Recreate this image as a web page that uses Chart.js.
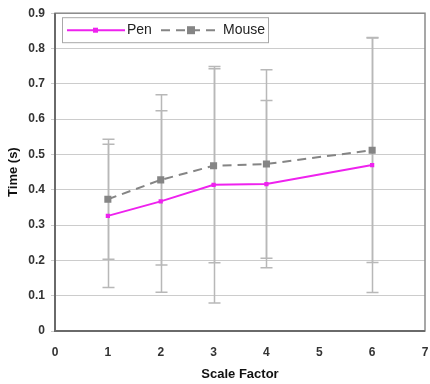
<!DOCTYPE html>
<html>
<head>
<meta charset="utf-8">
<script src="https://cdn.jsdelivr.net/npm/chart.js@4.4.1/dist/chart.umd.min.js"></script>
<style>
html,body{margin:0;padding:0;background:#fff;}
#wrap{width:430px;height:384px;position:relative;}
</style>
</head>
<body>
<div id="wrap"><canvas id="c" width="430" height="384"></canvas></div>
<script>
const scaleFactors = [1, 2, 3, 4, 6];
const penTime = [0.326, 0.367, 0.414, 0.416, 0.470];
const penErr = [0.203, 0.257, 0.335, 0.237, 0.361];
const mouseTime = [0.373, 0.428, 0.468, 0.473, 0.512];
const mouseErr = [0.170, 0.241, 0.275, 0.267, 0.318];
const seriesNames = ['Pen', 'Mouse'];
const yTicks = [0, 0.1, 0.2, 0.3, 0.4, 0.5, 0.6, 0.7, 0.8, 0.9];
const xTicks = [0, 1, 2, 3, 4, 5, 6, 7];

const FONT = '"Liberation Sans", Arial, sans-serif';
const PEN_COLOR = '#ee22ee';
const MOUSE_COLOR = '#858585';
const ERR_COLOR = '#b8b8b8';

const errorBars = {
  id: 'errorBars',
  beforeDatasetsDraw(chart) {
    const {ctx, scales: {x, y}} = chart;
    ctx.save();
    ctx.strokeStyle = ERR_COLOR;
    ctx.lineWidth = 1.5;
    const sets = [[penTime, penErr], [mouseTime, mouseErr]];
    sets.forEach(([m, e]) => {
      scaleFactors.forEach((sf, i) => {
        const px = Math.round(x.getPixelForValue(sf)) + 0.5;
        const top = y.getPixelForValue(m[i] + e[i]);
        const bot = y.getPixelForValue(m[i] - e[i]);
        ctx.beginPath();
        ctx.moveTo(px, top); ctx.lineTo(px, bot);
        ctx.moveTo(px - 6, top); ctx.lineTo(px + 6, top);
        ctx.moveTo(px - 6, bot); ctx.lineTo(px + 6, bot);
        ctx.stroke();
      });
    });
    ctx.restore();
  }
};

const frameAndLegend = {
  id: 'frameAndLegend',
  afterDraw(chart) {
    const {ctx, chartArea: a} = chart;
    ctx.save();
    ctx.strokeStyle = '#8a8a8a';
    ctx.lineWidth = 1.5;
    ctx.strokeRect(a.left, a.top, a.right - a.left, a.bottom - a.top);
    ctx.strokeStyle = '#6a6a6a';
    ctx.lineWidth = 2;
    ctx.beginPath();
    ctx.moveTo(a.left, a.top); ctx.lineTo(a.left, a.bottom); ctx.lineTo(a.right, a.bottom);
    ctx.stroke();
    const lx = a.left + 7, ly = a.top + 4, lw = 206, lh = 25;
    ctx.fillStyle = '#fff';
    ctx.fillRect(lx, ly, lw, lh);
    ctx.strokeStyle = '#a8a8a8';
    ctx.lineWidth = 1;
    ctx.strokeRect(lx + 0.5, ly + 0.5, lw, lh);
    const cy = ly + lh / 2 + 0.5;
    ctx.strokeStyle = PEN_COLOR;
    ctx.lineWidth = 2;
    ctx.beginPath(); ctx.moveTo(lx + 5, cy); ctx.lineTo(lx + 63, cy); ctx.stroke();
    ctx.fillStyle = PEN_COLOR;
    ctx.fillRect(lx + 31, cy - 2.5, 5, 5);
    ctx.fillStyle = '#222';
    ctx.font = '14px ' + FONT;
    ctx.textBaseline = 'middle';
    ctx.fillText(seriesNames[0], lx + 65, cy);
    ctx.strokeStyle = MOUSE_COLOR;
    ctx.lineWidth = 2;
    ctx.setLineDash([9, 6]);
    ctx.beginPath(); ctx.moveTo(lx + 99, cy); ctx.lineTo(lx + 159, cy); ctx.stroke();
    ctx.setLineDash([]);
    ctx.fillStyle = MOUSE_COLOR;
    ctx.fillRect(lx + 125, cy - 4, 8, 8);
    ctx.fillStyle = '#222';
    ctx.fillText(seriesNames[1], lx + 161, cy);
    ctx.restore();
  }
};

new Chart(document.getElementById('c'), {
  type: 'line',
  data: {
    datasets: [
      {
        label: seriesNames[0],
        data: scaleFactors.map((s, i) => ({x: s, y: penTime[i]})),
        borderColor: PEN_COLOR,
        backgroundColor: PEN_COLOR,
        borderWidth: 2,
        pointStyle: 'rect',
        pointRadius: 3,
        pointBorderWidth: 0,
        tension: 0
      },
      {
        label: seriesNames[1],
        data: scaleFactors.map((s, i) => ({x: s, y: mouseTime[i]})),
        borderColor: MOUSE_COLOR,
        backgroundColor: MOUSE_COLOR,
        borderWidth: 2,
        borderDash: [9, 6],
        pointStyle: 'rect',
        pointRadius: 5,
        pointBorderWidth: 0,
        tension: 0
      }
    ]
  },
  options: {
    responsive: false,
    animation: false,
    layout: {padding: {top: 6, right: -3, left: 0, bottom: 0}},
    plugins: {legend: {display: false}, tooltip: {enabled: false}},
    scales: {
      x: {
        type: 'linear',
        min: xTicks[0], max: xTicks[xTicks.length - 1],
        afterBuildTicks: s => { s.ticks = xTicks.map(v => ({value: v})); },
        grid: {display: false, drawTicks: true},
        border: {display: false},
        ticks: {color: '#333', font: {family: FONT, size: 12, weight: 'bold'}, padding: 6},
        title: {display: true, text: 'Scale Factor', color: '#111', font: {family: FONT, size: 13, weight: 'bold'}, padding: {top: 4, bottom: 2}},
        afterFit: s => { s.height = 53; s.paddingRight = 0; s.paddingLeft = 0; }
      },
      y: {
        min: yTicks[0], max: yTicks[yTicks.length - 1],
        afterBuildTicks: s => { s.ticks = yTicks.map(v => ({value: v})); },
        grid: {color: '#cccccc', lineWidth: 1, tickLength: 4, drawTicks: true},
        border: {display: false},
        ticks: {color: '#333', font: {family: FONT, size: 12, weight: 'bold'}, padding: 6,
          callback: v => String(Math.round(v * 10) / 10)},
        title: {display: true, text: 'Time (s)', color: '#111', font: {family: FONT, size: 13, weight: 'bold'}, padding: {top: 6, bottom: 0}},
        afterFit: s => { s.width = 55; }
      }
    }
  },
  plugins: [errorBars, frameAndLegend]
});
</script>
</body>
</html>
